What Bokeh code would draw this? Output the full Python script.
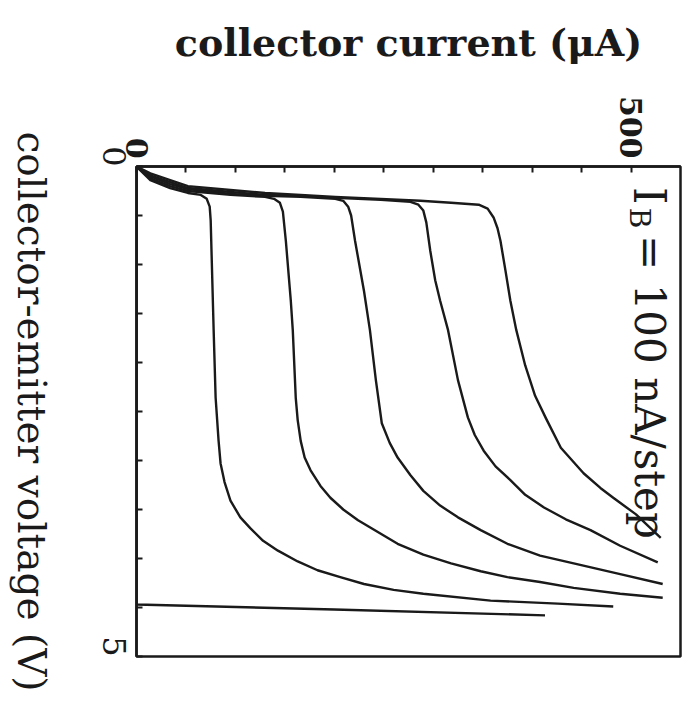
import math
from bokeh.plotting import figure
from bokeh.layouts import row
from bokeh.models import Range1d, FixedTicker, Label, LinearAxis
from bokeh.embed import file_html
from bokeh.resources import INLINE

# ---- data: collector current (uA) vs collector-emitter voltage (V), one curve per base-current step ----
ib_steps_nA = [0, 100, 200, 300, 400, 500]

i0 = [0, 0, 200, 413]
v0 = [0, 4.47, 4.52, 4.58]

i1 = [0, 14, 34, 52, 65, 71, 74, 75, 78, 80, 83, 85, 89, 95, 105, 115, 128, 143, 163, 183, 206, 230, 260, 290, 358, 426, 482]
v1 = [0, 0.14, 0.22, 0.27, 0.29, 0.33, 0.41, 0.55, 1.67, 2.36, 2.80, 3.03, 3.22, 3.41, 3.58, 3.69, 3.82, 3.92, 4.03, 4.12, 4.19, 4.26, 4.32, 4.36, 4.43, 4.46, 4.49]

i2 = [0, 14, 34, 52, 95, 130, 139, 145, 148, 151, 156, 158, 161, 163, 166, 170, 176, 186, 196, 209, 224, 244, 264, 290, 318, 348, 375, 408, 442, 489, 532]
v2 = [0, 0.12, 0.20, 0.25, 0.29, 0.31, 0.33, 0.37, 0.46, 0.76, 1.37, 1.67, 2.36, 2.59, 2.80, 2.97, 3.10, 3.26, 3.38, 3.50, 3.61, 3.73, 3.85, 3.96, 4.05, 4.13, 4.19, 4.24, 4.30, 4.36, 4.40]

i3 = [0, 14, 34, 52, 95, 130, 166, 201, 209, 214, 217, 221, 230, 236, 242, 248, 256, 264, 277, 290, 307, 325, 348, 375, 408, 442, 489, 532]
v3 = [0, 0.10, 0.18, 0.23, 0.28, 0.30, 0.31, 0.33, 0.35, 0.41, 0.50, 0.76, 1.27, 1.67, 2.18, 2.62, 2.82, 2.97, 3.15, 3.31, 3.46, 3.58, 3.71, 3.85, 3.97, 4.05, 4.16, 4.26]

i4 = [0, 14, 34, 52, 95, 130, 166, 201, 247, 277, 285, 290, 293, 297, 302, 307, 315, 325, 335, 342, 351, 363, 378, 393, 412, 434, 459, 489, 527]
v4 = [0, 0.09, 0.16, 0.22, 0.26, 0.29, 0.30, 0.32, 0.34, 0.36, 0.39, 0.45, 0.57, 0.86, 1.16, 1.37, 1.67, 2.18, 2.56, 2.74, 2.90, 3.06, 3.20, 3.35, 3.48, 3.60, 3.71, 3.87, 4.04]

i5 = [0, 14, 34, 52, 95, 130, 166, 201, 247, 287, 318, 346, 355, 361, 365, 368, 373, 378, 384, 393, 403, 414, 429, 452, 469, 482, 505, 530]
v5 = [0, 0.07, 0.14, 0.20, 0.24, 0.27, 0.29, 0.31, 0.33, 0.35, 0.37, 0.39, 0.43, 0.52, 0.63, 0.76, 1.06, 1.37, 1.67, 2.03, 2.34, 2.57, 2.87, 3.13, 3.28, 3.38, 3.55, 3.79]

x_ticks = [0, 50, 100, 150, 200, 250, 300, 350, 400, 450, 500]
x_tick_text = {0: "0", 500: "500"}
y_ticks = [0, 0.5, 1, 1.5, 2, 2.5, 3, 3.5, 4, 4.5, 5]
y_tick_text = {0: "0", 5: "5"}

FONT = "DejaVu Serif"
INK = "#1a1a1a"
ANG = -math.pi / 2  # text reading top to bottom

p = figure(width=638, height=704, output_backend="svg", toolbar_location=None,
           x_range=Range1d(0, 550), y_range=Range1d(5, 0), x_axis_location="above",
           min_border_left=80, min_border_top=166, min_border_right=14, min_border_bottom=48)
p.grid.visible = False
p.background_fill_color = "white"
p.border_fill_color = "white"
p.outline_line_color = INK
p.outline_line_width = 2.5

for xs, ys in [(i0, v0), (i1, v1), (i2, v2), (i3, v3), (i4, v4), (i5, v5)]:
    p.line(xs, ys, line_color=INK, line_width=2.4, line_join="round")

xa = p.xaxis[0]
xa.ticker = FixedTicker(ticks=x_ticks)
xa.major_label_overrides = {t: x_tick_text.get(t, "") for t in x_ticks}
xa.minor_tick_line_color = None
xa.major_tick_in = 6
xa.major_tick_out = 0
xa.major_tick_line_width = 2
xa.major_tick_line_color = INK
xa.axis_line_width = 2.5
xa.axis_line_color = INK
xa.major_label_orientation = -math.pi / 2
xa.major_label_standoff = 8
xa.major_label_text_font = FONT
xa.major_label_text_font_style = "bold"
xa.major_label_text_font_size = "30px"
xa.major_label_text_color = INK
xa.axis_label = "collector current (\u03bcA)"
xa.axis_label_text_font = FONT
xa.axis_label_text_font_style = "bold"
xa.axis_label_text_font_size = "38px"
xa.axis_label_text_color = INK
xa.axis_label_standoff = 28

ya = p.yaxis[0]
ya.ticker = FixedTicker(ticks=y_ticks)
ya.major_label_overrides = {t: y_tick_text.get(t, "") for t in y_ticks}
ya.minor_tick_line_color = None
ya.major_tick_in = 6
ya.major_tick_out = 0
ya.major_tick_line_width = 2
ya.major_tick_line_color = INK
ya.axis_line_width = 2.5
ya.axis_line_color = INK
ya.major_label_orientation = -math.pi / 2
ya.major_label_standoff = 22
ya.major_label_text_font = FONT
ya.major_label_text_font_size = "32px"
ya.major_label_text_color = INK

# base current step annotation
p.add_layout(Label(x=519, y=0.21, text="I", angle=ANG, text_font=FONT, text_font_size="44px",
                   text_align="left", text_baseline="alphabetic", text_color=INK))
p.add_layout(Label(x=509, y=0.42, text="B", angle=ANG, text_font=FONT, text_font_size="28px",
                   text_align="left", text_baseline="alphabetic", text_color=INK))
p.add_layout(Label(x=519, y=0.70, text="= 100 nA/step", angle=ANG, text_font=FONT,
                   text_font_size="42px", text_align="left", text_baseline="alphabetic",
                   text_color=INK))

# narrow strip on the left carrying the voltage-axis title; a right-side axis label reads top to bottom
side = figure(width=56, height=704, output_backend="svg", toolbar_location=None,
              x_range=Range1d(0, 1), y_range=p.y_range,
              x_axis_type=None, y_axis_type=None, min_border=0)
side.outline_line_color = None
side.background_fill_color = "white"
side.border_fill_color = "white"
side.grid.visible = False
title_axis = LinearAxis(ticker=FixedTicker(ticks=[]), axis_line_color=None,
                        major_tick_line_color=None, minor_tick_line_color=None,
                        axis_label="collector-emitter voltage (V)", axis_label_standoff=0,
                        axis_label_text_font=FONT, axis_label_text_font_size="39px",
                        axis_label_text_font_style="normal", axis_label_text_color=INK)
side.add_layout(title_axis, "right")

layout = row(side, p, spacing=0)
open("out.html", "w").write(file_html(layout, INLINE))
